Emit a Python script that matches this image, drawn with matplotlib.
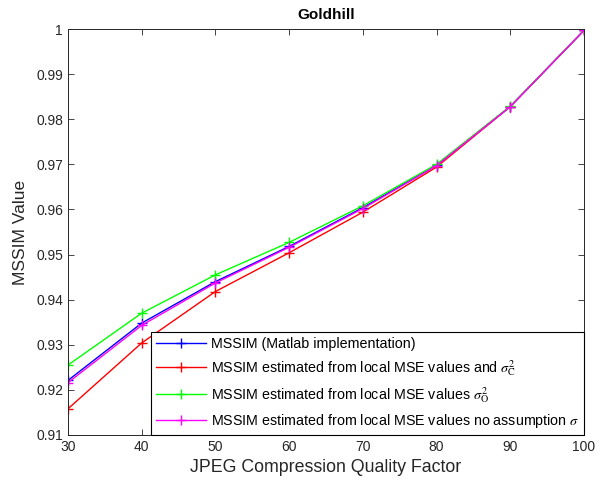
import matplotlib
matplotlib.use('Agg')
import matplotlib.pyplot as plt
from matplotlib.ticker import FormatStrFormatter

plt.rcParams['font.family'] = ['Liberation Sans', 'DejaVu Sans']
plt.rcParams['mathtext.fontset'] = 'stix'

quality = [30, 40, 50, 60, 70, 80, 90, 100]
mssim_matlab = [0.9221, 0.9348, 0.9440, 0.9518, 0.9604, 0.9698, 0.9828, 0.9997]
mssim_sigma_c = [0.9158, 0.9304, 0.9418, 0.9504, 0.9594, 0.9694, 0.9828, 0.9997]
mssim_sigma_o = [0.9255, 0.9370, 0.9455, 0.9527, 0.9608, 0.9700, 0.9829, 0.9997]
mssim_no_assume = [0.9216, 0.9343, 0.9437, 0.9516, 0.9602, 0.9697, 0.9828, 0.9997]

labels = [
    'MSSIM (Matlab implementation)',
    r'MSSIM estimated from local MSE values and $\sigma^{2}_{\mathrm{C}}$',
    r'MSSIM estimated from local MSE values $\sigma^{2}_{\mathrm{O}}$',
    r'MSSIM estimated from local MSE values no assumption $\sigma$',
]
colors = ['#0000ff', '#ff0000', '#00ff00', '#ff00ff']
series = [mssim_matlab, mssim_sigma_c, mssim_sigma_o, mssim_no_assume]

axc = '#262626'
fig = plt.figure(figsize=(6, 4.92), dpi=100)
ax = fig.add_axes([0.1133, 0.1159, 0.86, 0.8251])

for vals, c, lab in zip(series, colors, labels):
    ax.plot(quality, vals, color=c, linewidth=1.0, marker='+',
            markersize=6.5, markeredgewidth=1.0, label=lab)

ax.set_xlim(30, 100)
ax.set_ylim(0.91, 1.0)
ax.set_xticks(range(30, 101, 10))
ax.set_yticks([0.91 + 0.01 * i for i in range(10)])
ax.yaxis.set_major_formatter(FormatStrFormatter('%g'))

ax.tick_params(direction='in', length=4, width=0.6, colors=axc,
               labelsize=10, top=True, right=True)
for s in ax.spines.values():
    s.set_color(axc)
    s.set_linewidth(0.7)

ax.set_xlabel('JPEG Compression Quality Factor', fontsize=12.8, color=axc)
ax.set_ylabel('MSSIM Value', fontsize=12.5, color=axc, labelpad=6)
ax.set_title('Goldhill', fontsize=11, fontweight='bold', pad=7)

leg = ax.legend(loc='lower right', fontsize=10.3, handlelength=3.5,
                borderaxespad=0, fancybox=False, edgecolor='#000000',
                framealpha=1, labelspacing=0.5, handletextpad=0.3,
                borderpad=0.35)
leg.get_frame().set_linewidth(0.8)

fig.savefig('out.png', dpi=100)
